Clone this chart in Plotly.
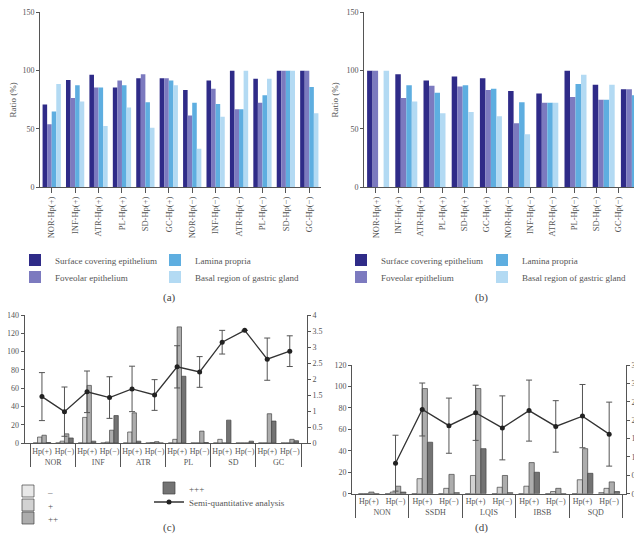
import plotly.graph_objects as go

W, H = 642, 534

# ---- panels (a) and (b): positive ratio per region ----
a_labels = ["NOR-Hp(+)", "INF-Hp(+)", "ATR-Hp(+)", "PL-Hp(+)", "SD-Hp(+)", "GC-Hp(+)",
            "NOR-Hp(−)", "INF-Hp(−)", "ATR-Hp(−)", "PL-Hp(−)", "SD-Hp(−)", "GC-Hp(−)"]
regions = ["Surface covering epithelium", "Foveolar epithelium",
           "Lamina propria", "Basal region of gastric gland"]
region_colors = ["#2f2b88", "#7c7abf", "#5eaee0", "#b3daf3"]

a_surface = [71, 92, 96.5, 85.5, 93.5, 93.5, 83.5, 91.5, 100, 93, 100, 100]
a_foveolar = [54, 76.5, 85.5, 91.5, 97, 93.5, 61.5, 84.5, 67, 72.5, 100, 100]
a_lamina = [65, 87.5, 85.5, 87.5, 73, 91.5, 72.5, 71.5, 67, 79, 100, 86]
a_basal = [88.5, 73.5, 52.5, 68.5, 51, 87.5, 33, 60.5, 100, 93, 100, 63.5]

# panel (b) has only ten bar groups drawn under the twelve labels
b_groups = ["g1", "g2", "g3", "g4", "g5", "g6", "g7", "g8", "g9", "g10"]
b_surface = [100, 97, 91.5, 95, 93.5, 82.5, 80.5, 100, 88, 84]
b_foveolar = [100, 76.5, 87, 86.5, 83.5, 55, 72.5, 77.5, 75, 84]
b_lamina = [None, 87.5, 81, 87.5, 84.5, 73, 72.5, 88.5, 75, 79]
b_basal = [100, 73.5, 63.5, 64.5, 61, 45.5, 72.5, 96.5, 88, 31.5]
b_labels = a_labels

# ---- panel (c) ----
c_stage = ["NOR", "NOR", "INF", "INF", "ATR", "ATR", "PL", "PL", "SD", "SD", "GC", "GC"]
c_hp = ["Hp(+)", "Hp(−)"] * 6
grades = ["–", "+", "++", "+++"]
grade_colors = ["#e8e8e8", "#d2d2d2", "#adadad", "#737373"]
c_neg = [0, 0, 0, 0, 0, 0, 0, 0, 0, 0, 0, 0]
c_plus = [6.5, 2, 28, 1, 12, 0.5, 4, 0, 4, 0, 0, 0]
c_pp = [8.5, 10, 63, 14, 33, 1.5, 127, 13, 0, 0, 32, 4]
c_ppp = [0.5, 5.5, 2, 30, 2, 0, 73, 0.5, 25, 2, 24, 2.5]
c_score = [1.45, 0.98, 1.6, 1.42, 1.69, 1.5, 2.38, 2.22, 3.15, 3.52, 2.62, 2.87]
c_err = [0.75, 0.77, 0.65, 0.65, 0.71, 0.48, 0.66, 0.48, 0.37, None, 0.66, 0.48]

# ---- panel (d) ----
d_type = ["NON", "NON", "SSDH", "SSDH", "LQIS", "LQIS", "IBSB", "IBSB", "SQD", "SQD"]
d_hp = ["Hp(+)", "Hp(−)"] * 5
d_neg = [0, 0, 0, 0, 0, 0, 0, 0, 0, 1]
d_plus = [0, 1.5, 14, 5, 17, 6, 7, 2, 13, 5]
d_pp = [1.5, 7, 98, 18, 98, 17, 29, 5, 42, 11]
d_ppp = [0, 1.5, 48, 1, 42, 1, 20, 0, 19, 2]
d_score = [None, 0.83, 2.29, 1.85, 2.2, 1.79, 2.26, 1.83, 2.11, 1.62]
d_err = [None, 0.76, 0.72, 0.75, 0.75, 0.87, 0.83, 0.7, 0.86, 0.87]

FONT = "Liberation Serif"
AX = "#555555"
TXT = "#555555"


def fx(p):
    return p / W


def fy(p):
    return 1 - p / H


fig = go.Figure()

a_series = [a_surface, a_foveolar, a_lamina, a_basal]
b_series = [b_surface, b_foveolar, b_lamina, b_basal]
for i in range(4):
    fig.add_trace(go.Bar(x=a_labels, y=a_series[i], name=regions[i],
                         marker=dict(color=region_colors[i], line=dict(width=0)),
                         xaxis="x", yaxis="y", legend="legend" if i == 0 else f"legend{i + 1}"))
    fig.add_trace(go.Bar(x=b_groups, y=b_series[i], name=regions[i],
                         marker=dict(color=region_colors[i], line=dict(width=0)),
                         xaxis="x2", yaxis="y2", legend=f"legend{i + 5}"))

# invisible trace carrying the twelve labels of panel (b)
fig.add_trace(go.Scatter(x=b_labels, y=[None] * len(b_labels), mode="markers",
                         showlegend=False, hoverinfo="skip", xaxis="x3", yaxis="y2"))

c_series = [c_neg, c_plus, c_pp, c_ppp]
d_series = [d_neg, d_plus, d_pp, d_ppp]
for i in range(4):
    fig.add_trace(go.Bar(x=[c_stage, c_hp], y=c_series[i], name=grades[i],
                         marker=dict(color=grade_colors[i], line=dict(color="#444", width=0.7)),
                         xaxis="x4", yaxis="y4", legend=f"legend{i + 9}"))
    fig.add_trace(go.Bar(x=[d_type, d_hp], y=d_series[i], name=grades[i],
                         marker=dict(color=grade_colors[i], line=dict(color="#444", width=0.7)),
                         xaxis="x5", yaxis="y6", showlegend=False))

line_style = dict(color="#333333", width=1.3)
fig.add_trace(go.Scatter(x=[c_stage, c_hp], y=c_score, name="Semi-quantitative analysis",
                         mode="lines+markers", line=line_style,
                         marker=dict(color="#222", size=5),
                         error_y=dict(type="data", array=c_err, color="#555", thickness=1, width=3),
                         xaxis="x4", yaxis="y5", legend="legend13"))
fig.add_trace(go.Scatter(x=[d_type, d_hp], y=d_score, name="Semi-quantitative analysis",
                         mode="lines+markers", line=line_style,
                         marker=dict(color="#222", size=5),
                         error_y=dict(type="data", array=d_err, color="#555", thickness=1, width=3),
                         xaxis="x5", yaxis="y7", showlegend=False))

tickfont = dict(family=FONT, size=8, color=TXT)
common = dict(showgrid=False, zeroline=False, showline=True, linecolor=AX, linewidth=1,
              tickcolor=AX, tickfont=tickfont)

ydom_ab = [fy(179.3), fy(4.3)]
ydom_c = [fy(435), fy(307)]
ydom_d = [fy(485.7), fy(357)]

fig.update_layout(
    width=W, height=H, template="none",
    margin=dict(l=0, r=0, t=0, b=0),
    paper_bgcolor="white", plot_bgcolor="rgba(0,0,0,0)",
    barmode="group", bargap=0.22, bargroupgap=0,
    font=dict(family=FONT, size=9, color=TXT),
    xaxis=dict(common, domain=[fx(32), fx(313)], anchor="y", type="category",
               ticks="outside", ticklen=5, tickangle=-90, tickfont=dict(tickfont, size=8.5)),
    yaxis=dict(common, domain=ydom_ab, anchor="x", range=[0, 150], dtick=50,
               ticks="outside", ticklen=3,
               title=dict(text="Ratio (%)", font=dict(family=FONT, size=9, color=TXT), standoff=6)),
    xaxis2=dict(common, domain=[fx(356), fx(638)], anchor="y2", type="category",
                ticks="", showticklabels=False),
    yaxis2=dict(common, domain=ydom_ab, anchor="x2", range=[0, 150], dtick=50,
                ticks="outside", ticklen=3,
                title=dict(text="Ratio (%)", font=dict(family=FONT, size=9, color=TXT), standoff=6)),
    xaxis3=dict(common, overlaying="x2", anchor="y2", type="category", showline=False,
                categoryorder="array", categoryarray=b_labels,
                range=[-0.545, 12.27], ticks="outside", ticklen=5, tickangle=-90,
                tickfont=dict(tickfont, size=8.5)),
    xaxis4=dict(common, domain=[fx(16.7), fx(299)], anchor="y4", type="multicategory",
                ticks="", tickangle=0, showdividers=True, dividercolor=AX, dividerwidth=1,
                tickfont=dict(tickfont, size=8)),
    yaxis4=dict(common, domain=ydom_c, anchor="x4", range=[0, 140], dtick=20,
                ticks="outside", ticklen=3),
    yaxis5=dict(common, overlaying="y4", anchor="x4", side="right", range=[0, 4], dtick=0.5,
                ticks="outside", ticklen=3),
    xaxis5=dict(common, domain=[fx(344), fx(618)], anchor="y6", type="multicategory",
                ticks="", tickangle=0, showdividers=True, dividercolor=AX, dividerwidth=1,
                tickfont=dict(tickfont, size=8)),
    yaxis6=dict(common, domain=ydom_d, anchor="x5", range=[0, 120], dtick=20,
                ticks="outside", ticklen=3),
    yaxis7=dict(common, overlaying="y6", anchor="x5", side="right", range=[0, 3.5], dtick=0.5,
                ticks="outside", ticklen=3, ticklabeloverflow="allow"),
)

# one legend box per legend entry, so each sits where the reference puts it
leg = dict(bgcolor="rgba(0,0,0,0)", borderwidth=0, font=dict(family=FONT, size=9, color=TXT),
           xanchor="left", yanchor="middle", orientation="v", itemwidth=30, tracegroupgap=0)
legend_spots = {
    "legend": (7, 252), "legend2": (7, 269), "legend3": (147, 252), "legend4": (147, 269),
    "legend5": (333, 252), "legend6": (333, 269), "legend7": (474, 252), "legend8": (474, 269),
    "legend9": (0, 483), "legend10": (0, 497), "legend11": (0, 510),
    "legend12": (141, 480), "legend13": (141, 494),
}
fig.update_layout({k: dict(leg, x=fx(px), y=fy(py)) for k, (px, py) in legend_spots.items()})

for txt, x, y in [("(a)", 153, 289), ("(b)", 482, 289), ("(c)", 153, 528), ("(d)", 482, 528)]:
    fig.add_annotation(text=txt, x=fx(x), y=fy(y), xref="paper", yref="paper",
                       showarrow=False, font=dict(family=FONT, size=11, color="#444"))

fig.write_html("out.html")
